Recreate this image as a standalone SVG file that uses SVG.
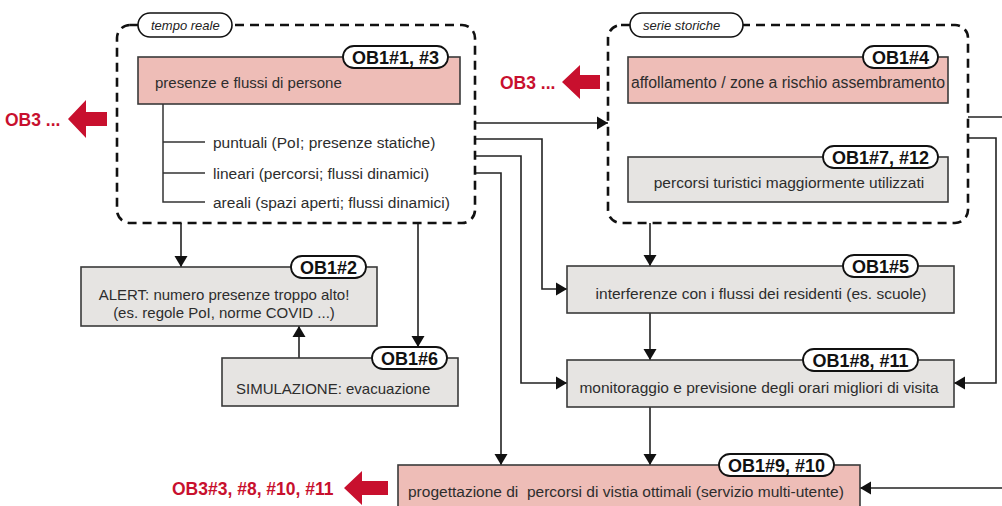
<svg xmlns="http://www.w3.org/2000/svg" width="1002" height="506" viewBox="0 0 1002 506">
<defs>
<marker id="ah" markerUnits="userSpaceOnUse" markerWidth="12" markerHeight="14" refX="11" refY="7" orient="auto">
<path d="M0,0.5 L11,7 L0,13.5 z" fill="#111"/>
</marker>
<style>
.bg{fill:#ffffff}
.dash{fill:none;stroke:#111;stroke-width:2.6;stroke-dasharray:9 6}
.tag{fill:#ffffff;stroke:#111;stroke-width:1.6}
.tagt{font-family:"Liberation Sans",Arial,sans-serif;font-style:italic;font-size:13px;fill:#222}
.pink{fill:#eebdb7;stroke:#3a3a3a;stroke-width:1.6}
.grey{fill:#e6e4e2;stroke:#3a3a3a;stroke-width:1.6}
.pill{fill:#ffffff;stroke:#111;stroke-width:1.8}
.pt{font-family:"Liberation Sans",Arial,sans-serif;font-weight:bold;font-size:18px;fill:#111;text-anchor:middle}
.t{font-family:"Liberation Sans",Arial,sans-serif;font-size:15.5px;fill:#2d2d2d}
.c{text-anchor:middle}
.tree{fill:none;stroke:#333;stroke-width:1.5}
.conn path{fill:none;stroke:#222;stroke-width:1.6}
.red{fill:#c8102e}
.rt{font-family:"Liberation Sans",Arial,sans-serif;font-weight:bold;font-size:17.5px;fill:#c8102e}
</style>
</defs>
<rect class="bg" x="0" y="0" width="1002" height="506"/>

<g id="connectors" class="conn">
<path d="M181,223 V267" marker-end="url(#ah)"/>
<path d="M418,223 V347" marker-end="url(#ah)"/>
<path d="M299,358 V326" marker-end="url(#ah)"/>
<path d="M475,123 H608" marker-end="url(#ah)"/>
<path d="M475,139 H542 V289 H567" marker-end="url(#ah)"/>
<path d="M475,156 H521 V383 H567" marker-end="url(#ah)"/>
<path d="M475,173 H501 V465" marker-end="url(#ah)"/>
<path d="M650,223 V266" marker-end="url(#ah)"/>
<path d="M650,313 V360" marker-end="url(#ah)"/>
<path d="M650,407 V465" marker-end="url(#ah)"/>
<path d="M968,138 H996 V383 H954" marker-end="url(#ah)"/>
<path d="M968,117 H1002"/>
<path d="M1002,488 H860" marker-end="url(#ah)"/>
</g>

<g id="group-tempo-reale">
<rect class="dash" x="117" y="25" width="358" height="198" rx="13"/>
<rect class="tag" x="138" y="13" width="94" height="24" rx="12"/>
<text class="tagt" x="151" y="29.5">tempo reale</text>
</g>

<g id="group-serie-storiche">
<rect class="dash" x="608" y="25" width="360" height="198" rx="13"/>
<rect class="tag" x="630" y="13" width="113" height="24" rx="12"/>
<text class="tagt" x="643" y="29.5">serie storiche</text>
</g>

<g id="node-presenze">
<rect class="pink" x="138" y="57" width="322" height="47"/>
<rect class="pill" x="343" y="46" width="105" height="22" rx="11"/>
<text class="pt" x="395.5" y="63.5">OB1#1, #3</text>
<text class="t" x="155" y="88" style="font-size:15px">presenze e flussi di persone</text>
<path class="tree" d="M163,104 V202 H205 M163,142 H205 M163,173 H205"/>
<text class="t" x="213" y="147.5">puntuali (PoI; presenze statiche)</text>
<text class="t" x="213" y="178.5">lineari (percorsi; flussi dinamici)</text>
<text class="t" x="213" y="207.5">areali (spazi aperti; flussi dinamici)</text>
</g>

<g id="node-affollamento">
<rect class="pink" x="628" y="57" width="320" height="46"/>
<rect class="pill" x="863" y="46" width="75" height="22" rx="11"/>
<text class="pt" x="900.5" y="63.5">OB1#4</text>
<text class="t c" x="788" y="88" style="font-size:15.8px">affollamento / zone a rischio assembramento</text>
</g>

<g id="node-percorsi">
<rect class="grey" x="628" y="157" width="320" height="45"/>
<rect class="pill" x="823" y="146" width="115" height="22" rx="11"/>
<text class="pt" x="880.5" y="163.5">OB1#7, #12</text>
<text class="t c" x="789" y="188">percorsi turistici maggiormente utilizzati</text>
</g>

<g id="node-alert">
<rect class="grey" x="81" y="267" width="296" height="59"/>
<rect class="pill" x="291" y="256" width="75" height="22" rx="11"/>
<text class="pt" x="328.5" y="273.5">OB1#2</text>
<text class="t c" x="224" y="300" style="font-size:15px">ALERT: numero presenze troppo alto!</text>
<text class="t c" x="224" y="318" style="font-size:15px">(es. regole PoI, norme COVID ...)</text>
</g>

<g id="node-simulazione">
<rect class="grey" x="222" y="358" width="236" height="48"/>
<rect class="pill" x="372" y="347" width="75" height="22" rx="11"/>
<text class="pt" x="409.5" y="364.5">OB1#6</text>
<text class="t" x="236" y="394" style="font-size:15px">SIMULAZIONE: evacuazione</text>
</g>

<g id="node-interferenze">
<rect class="grey" x="567" y="266" width="387" height="47"/>
<rect class="pill" x="843" y="255" width="75" height="22" rx="11"/>
<text class="pt" x="880.5" y="272.5">OB1#5</text>
<text class="t c" x="761" y="299">interferenze con i flussi dei residenti (es. scuole)</text>
</g>

<g id="node-monitoraggio">
<rect class="grey" x="567" y="360" width="387" height="47"/>
<rect class="pill" x="803" y="349" width="115" height="22" rx="11"/>
<text class="pt" x="860.5" y="366.5">OB1#8, #11</text>
<text class="t c" x="759" y="393">monitoraggio e previsione degli orari migliori di visita</text>
</g>

<g id="node-progettazione">
<rect class="pink" x="398" y="465" width="462" height="50"/>
<rect class="pill" x="719" y="454" width="115" height="22" rx="11"/>
<text class="pt" x="776.5" y="471.5">OB1#9, #10</text>
<text class="t" x="408" y="497" xml:space="preserve">progettazione di  percorsi di vistia ottimali (servizio multi-utente)</text>
</g>

<g id="out-ob3-left">
<polygon class="red" points="68,119 86,100 86,112 107,112 107,126 86,126 86,138"/>
<text class="rt" x="5" y="126">OB3 ...</text>
</g>
<g id="out-ob3-right">
<polygon class="red" points="562,82 580,65 580,75 600,75 600,89 580,89 580,99"/>
<text class="rt" x="500" y="89">OB3 ...</text>
</g>
<g id="out-ob3-bottom">
<polygon class="red" points="344,488 362,471 362,481 388,481 388,495 362,495 362,505"/>
<text class="rt" x="172" y="495">OB3#3, #8, #10, #11</text>
</g>
</svg>
